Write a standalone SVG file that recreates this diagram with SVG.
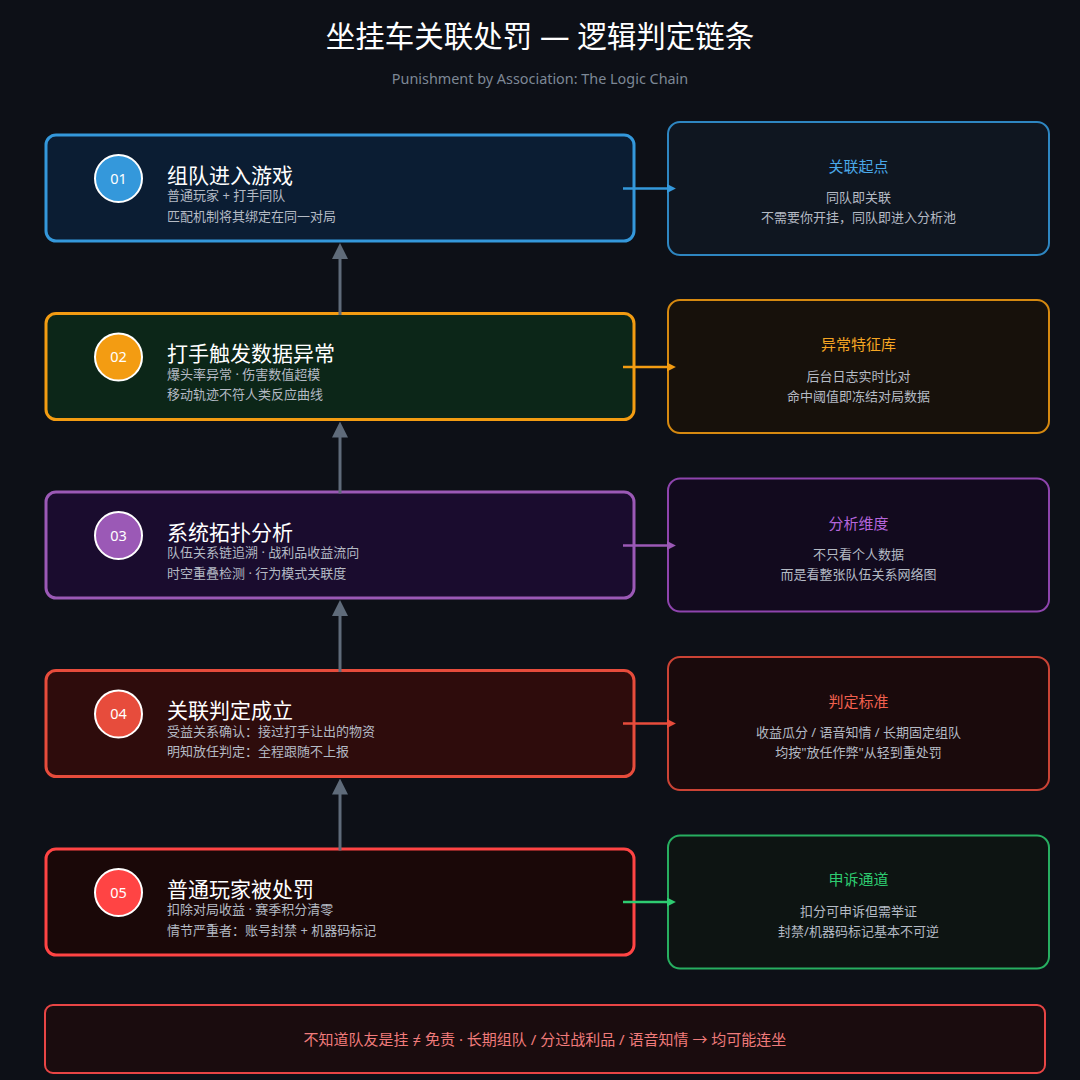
<svg xmlns="http://www.w3.org/2000/svg" width="1080" height="1080" viewBox="0 0 1080 1080">
  <defs>
    <style>
      text { font-family: "Noto Sans", "Noto Sans CJK SC", "DejaVu Sans", sans-serif; }
      .title { font-size: 29.5px; fill: #ffffff; text-anchor: middle; }
      .subtitle { font-size: 14.4px; fill: #7d8896; text-anchor: middle; }
      .lbox { stroke-width: 3; }
      .num { font-size: 14.5px; fill: #ffffff; text-anchor: middle; }
      .ntitle { font-size: 21px; fill: #ffffff; }
      .nsub { font-size: 13px; fill: #b4bac4; }
      .rbox { stroke-width: 2; }
      .rtitle { font-size: 15px; text-anchor: middle; }
      .rtext { font-size: 13px; fill: #b4bac4; text-anchor: middle; }
      .vline { stroke: #5f6b7a; stroke-width: 3; fill: none; }
      .hline { stroke-width: 2.5; fill: none; }
      .banner-text { font-size: 15px; fill: #f07b7b; text-anchor: middle; }
    </style>
    <marker id="up" viewBox="0 0 16 16" refX="1" refY="8" markerWidth="16" markerHeight="16" markerUnits="userSpaceOnUse" orient="auto">
      <path d="M0,0 L16,8 L0,16 z" fill="#5f6b7a"/>
    </marker>
    <marker id="a1" viewBox="0 0 8 8" refX="1" refY="4" markerWidth="9" markerHeight="9" markerUnits="userSpaceOnUse" orient="auto"><path d="M0,0 L8,4 L0,8 z" fill="#3498db"/></marker>
    <marker id="a2" viewBox="0 0 8 8" refX="1" refY="4" markerWidth="9" markerHeight="9" markerUnits="userSpaceOnUse" orient="auto"><path d="M0,0 L8,4 L0,8 z" fill="#f39c12"/></marker>
    <marker id="a3" viewBox="0 0 8 8" refX="1" refY="4" markerWidth="9" markerHeight="9" markerUnits="userSpaceOnUse" orient="auto"><path d="M0,0 L8,4 L0,8 z" fill="#9b59b6"/></marker>
    <marker id="a4" viewBox="0 0 8 8" refX="1" refY="4" markerWidth="9" markerHeight="9" markerUnits="userSpaceOnUse" orient="auto"><path d="M0,0 L8,4 L0,8 z" fill="#e74c3c"/></marker>
    <marker id="a5" viewBox="0 0 8 8" refX="1" refY="4" markerWidth="9" markerHeight="9" markerUnits="userSpaceOnUse" orient="auto"><path d="M0,0 L8,4 L0,8 z" fill="#2ecc71"/></marker>
  </defs>

  <rect x="0" y="0" width="1080" height="1080" fill="#0d1017"/>

  <text class="title" x="540" y="47">坐挂车关联处罚 — 逻辑判定链条</text>
  <text class="subtitle" x="540" y="84">Punishment by Association: The Logic Chain</text>

  <!-- Right info boxes -->
  <g id="info1">
    <rect class="rbox" x="668" y="122" width="381" height="133" rx="12" fill="#0f1620" stroke="#2e86c1"/>
    <text class="rtitle" x="858.5" y="171.5" fill="#4aa8e8">关联起点</text>
    <text class="rtext" x="858.5" y="202">同队即关联</text>
    <text class="rtext" x="858.5" y="222">不需要你开挂，同队即进入分析池</text>
  </g>
  <g id="info2">
    <rect class="rbox" x="668" y="300" width="381" height="133" rx="12" fill="#17110b" stroke="#d68910"/>
    <text class="rtitle" x="858.5" y="350" fill="#f5a623">异常特征库</text>
    <text class="rtext" x="858.5" y="380.5">后台日志实时比对</text>
    <text class="rtext" x="858.5" y="400.5">命中阈值即冻结对局数据</text>
  </g>
  <g id="info3">
    <rect class="rbox" x="668" y="478.5" width="381" height="133" rx="12" fill="#120a1e" stroke="#8e44ad"/>
    <text class="rtitle" x="858.5" y="528.5" fill="#b565dc">分析维度</text>
    <text class="rtext" x="858.5" y="559">不只看个人数据</text>
    <text class="rtext" x="858.5" y="579">而是看整张队伍关系网络图</text>
  </g>
  <g id="info4">
    <rect class="rbox" x="668" y="657" width="381" height="133" rx="12" fill="#1a0a0c" stroke="#cb4335"/>
    <text class="rtitle" x="858.5" y="706.5" fill="#f0604e">判定标准</text>
    <text class="rtext" x="858.5" y="737">收益瓜分 / 语音知情 / 长期固定组队</text>
    <text class="rtext" x="858.5" y="757">均按"放任作弊"从轻到重处罚</text>
  </g>
  <g id="info5">
    <rect class="rbox" x="668" y="835.5" width="381" height="133" rx="12" fill="#0d1412" stroke="#27ae60"/>
    <text class="rtitle" x="858.5" y="885" fill="#2ecc71">申诉通道</text>
    <text class="rtext" x="858.5" y="915.5">扣分可申诉但需举证</text>
    <text class="rtext" x="858.5" y="935.5">封禁/机器码标记基本不可逆</text>
  </g>

  <!-- Steps -->
  <g id="step1">
    <rect class="lbox" x="46" y="135" width="588" height="106" rx="10" fill="#0b1d33" stroke="#3498db"/>
    <circle cx="118.5" cy="178.5" r="23.5" fill="#3498db" stroke="#ffffff" stroke-width="2"/>
    <text class="num" x="118.5" y="183.5">01</text>
    <text class="ntitle" x="167" y="182.5">组队进入游戏</text>
    <text class="nsub" x="167" y="200">普通玩家 + 打手同队</text>
    <text class="nsub" x="167" y="220.5">匹配机制将其绑定在同一对局</text>
  </g>
  <g id="step2">
    <rect class="lbox" x="46" y="313.5" width="588" height="106" rx="10" fill="#0c2618" stroke="#f39c12"/>
    <circle cx="118.5" cy="357" r="23.5" fill="#f39c12" stroke="#ffffff" stroke-width="2"/>
    <text class="num" x="118.5" y="362">02</text>
    <text class="ntitle" x="167" y="361">打手触发数据异常</text>
    <text class="nsub" x="167" y="378.5">爆头率异常 · 伤害数值超模</text>
    <text class="nsub" x="167" y="399">移动轨迹不符人类反应曲线</text>
  </g>
  <g id="step3">
    <rect class="lbox" x="46" y="492" width="588" height="106" rx="10" fill="#1a0c2e" stroke="#9b59b6"/>
    <circle cx="118.5" cy="535.5" r="23.5" fill="#9b59b6" stroke="#ffffff" stroke-width="2"/>
    <text class="num" x="118.5" y="540.5">03</text>
    <text class="ntitle" x="167" y="539.5">系统拓扑分析</text>
    <text class="nsub" x="167" y="557">队伍关系链追溯 · 战利品收益流向</text>
    <text class="nsub" x="167" y="577.5">时空重叠检测 · 行为模式关联度</text>
  </g>
  <g id="step4">
    <rect class="lbox" x="46" y="670.5" width="588" height="106" rx="10" fill="#2e0c0c" stroke="#e74c3c"/>
    <circle cx="118.5" cy="714" r="23.5" fill="#e74c3c" stroke="#ffffff" stroke-width="2"/>
    <text class="num" x="118.5" y="719">04</text>
    <text class="ntitle" x="167" y="718">关联判定成立</text>
    <text class="nsub" x="167" y="735.5">受益关系确认：接过打手让出的物资</text>
    <text class="nsub" x="167" y="756">明知放任判定：全程跟随不上报</text>
  </g>
  <g id="step5">
    <rect class="lbox" x="46" y="849" width="588" height="106" rx="10" fill="#1a0808" stroke="#ff4444"/>
    <circle cx="118.5" cy="892.5" r="23.5" fill="#ff4444" stroke="#ffffff" stroke-width="2"/>
    <text class="num" x="118.5" y="897.5">05</text>
    <text class="ntitle" x="167" y="896.5">普通玩家被处罚</text>
    <text class="nsub" x="167" y="914">扣除对局收益 · 赛季积分清零</text>
    <text class="nsub" x="167" y="934.5">情节严重者：账号封禁 + 机器码标记</text>
  </g>

  <!-- Connectors -->
  <g id="connectors">
    <line class="vline" x1="340" y1="315" x2="340" y2="258" marker-end="url(#up)"/>
    <line class="vline" x1="340" y1="493.5" x2="340" y2="436.5" marker-end="url(#up)"/>
    <line class="vline" x1="340" y1="672" x2="340" y2="615" marker-end="url(#up)"/>
    <line class="vline" x1="340" y1="850.5" x2="340" y2="793.5" marker-end="url(#up)"/>

    <line class="hline" x1="623" y1="188.5" x2="668" y2="188.5" stroke="#3498db" marker-end="url(#a1)"/>
    <line class="hline" x1="623" y1="367" x2="668" y2="367" stroke="#f39c12" marker-end="url(#a2)"/>
    <line class="hline" x1="623" y1="545.5" x2="668" y2="545.5" stroke="#9b59b6" marker-end="url(#a3)"/>
    <line class="hline" x1="623" y1="723.5" x2="668" y2="723.5" stroke="#e74c3c" marker-end="url(#a4)"/>
    <line class="hline" x1="623" y1="902" x2="668" y2="902" stroke="#2ecc71" marker-end="url(#a5)"/>
  </g>

  <!-- Banner -->
  <g id="banner">
    <rect x="45" y="1005" width="1000" height="68" rx="8" fill="#1a0c0e" stroke="#e84545" stroke-width="2"/>
    <text class="banner-text" x="545" y="1045">不知道队友是挂 ≠ 免责 · 长期组队 / 分过战利品 / 语音知情 → 均可能连坐</text>
  </g>
</svg>
